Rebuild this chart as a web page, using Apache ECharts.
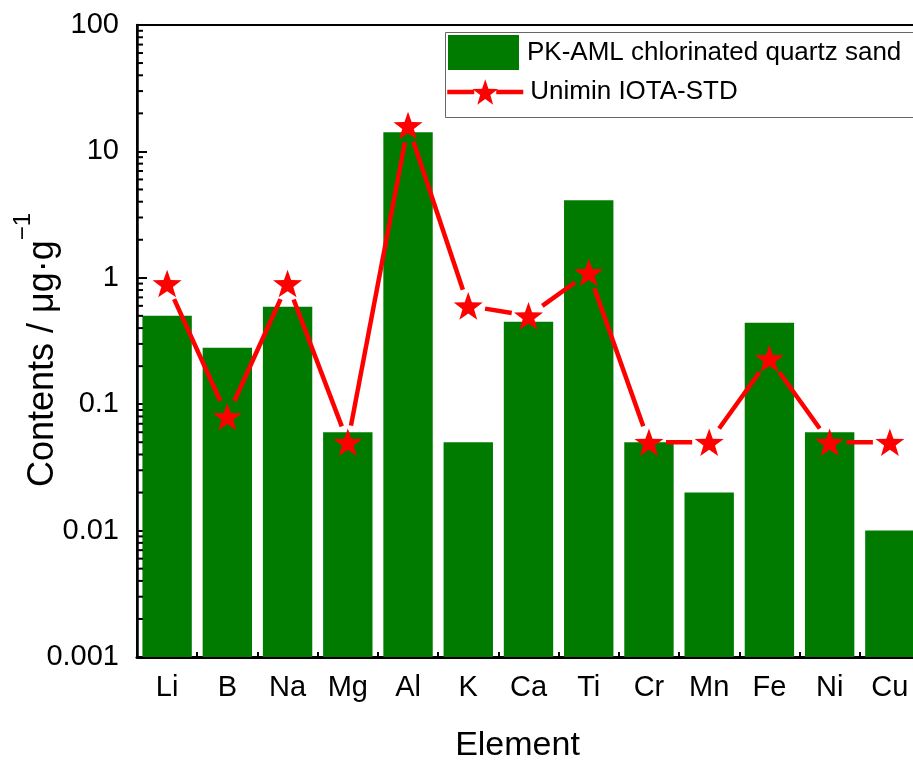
<!DOCTYPE html>
<html><head><meta charset="utf-8">
<script src="https://cdn.jsdelivr.net/npm/echarts@6/dist/echarts.min.js"></script>
<style>html,body{margin:0;padding:0;background:#fff}#c{width:913px;height:765px}</style>
</head><body><div id="c"></div>
<script>
const categories = ['Li','B','Na','Mg','Al','K','Ca','Ti','Cr','Mn','Fe','Ni','Cu'];
const pkAmlValues = [0.5,0.28,0.59,0.06,14.2,0.05,0.45,4.1,0.05,0.02,0.44,0.06,0.01];
const iotaStdValues = [0.9,0.08,0.9,0.05,16,0.6,0.5,1.1,0.05,0.05,0.23,0.05,0.05];
const yTickLabels = ['0.001','0.01','0.1','1','10','100'];
const yMinorTickValues = [
  0.002,0.003,0.004,0.005,0.006,0.007,0.008,0.009,
  0.02,0.03,0.04,0.05,0.06,0.07,0.08,0.09,
  0.2,0.3,0.4,0.5,0.6,0.7,0.8,0.9,
  2,3,4,5,6,7,8,9,
  20,30,40,50,60,70,80,90
];
const seriesNames = ['PK-AML chlorinated quartz sand','Unimin IOTA-STD'];

const FONT = "Arial, 'Liberation Sans', sans-serif";
const STAR = 'path://M50 0 L61.76 33.82 L97.55 34.55 L69.02 56.18 L79.39 90.45 L50 70 L20.61 90.45 L30.98 56.18 L2.45 34.55 L38.24 33.82 Z';
const RED = '#ff0000';
const GREEN = '#007b00';

const chart = echarts.init(document.getElementById('c'), null, {renderer:'canvas'});
chart.setOption({
  animation:false,
  backgroundColor:'#fff',
  textStyle:{fontFamily:FONT, color:'#000'},
  grid:{left:137, top:25, width:783, height:632, show:true, borderColor:'#000', borderWidth:2,
        backgroundColor:'transparent', outerBoundsMode:'none', containLabel:false},
  legend:[
    {data:[{name:seriesNames[0], icon:'rect'}], left:448, top:35, padding:0, itemWidth:71, itemHeight:35,
     selectedMode:false, textStyle:{fontSize:26, color:'#000', fontFamily:FONT, padding:[0,0,0,3]}},
    {data:[{name:seriesNames[1], lineStyle:{opacity:1, width:4.5, color:RED, type:[27,22]}}],
     left:445, top:79, padding:0, itemWidth:76, itemHeight:32,
     selectedMode:false, textStyle:{fontSize:26, color:'#000', fontFamily:FONT, padding:[0,0,0,2]}}
  ],
  graphic:[{type:'rect', left:443, top:30, shape:{width:480, height:85},
            style:{fill:'none', stroke:'#666', lineWidth:1}, z:-1, silent:true}],
  xAxis:[
    {type:'category', data:categories, position:'bottom',
     axisLine:{show:true, lineStyle:{color:'#000', width:3}},
     axisTick:{show:true, inside:true, alignWithLabel:true, length:10, lineStyle:{color:'#000', width:2}},
     axisLabel:{fontSize:29, margin:16, color:'#000', fontFamily:FONT, interval:0},
     name:'Element', nameLocation:'middle', nameGap:72, nameMoveOverlap:false,
     nameTextStyle:{fontSize:34, color:'#000', fontFamily:FONT, padding:[0,22,0,0]}},
    {type:'category', data:categories, position:'bottom',
     axisLine:{show:false},
     axisTick:{show:true, inside:true, length:5, lineStyle:{color:'#000', width:2}},
     axisLabel:{show:false}}
  ],
  yAxis:{
    type:'log', logBase:10, min:0.001, max:100, startValue:0.001,
    axisLine:{show:true, lineStyle:{color:'#000', width:2.5}},
    axisTick:{show:true, inside:true, length:10, lineStyle:{color:'#000', width:2}},
    splitLine:{show:false},
    axisLabel:{fontSize:29, margin:18, color:'#000', fontFamily:FONT,
      formatter:function(v){ return yTickLabels[Math.round(Math.log10(v))+3]; }},
    name:'{a|Contents / μg·g}{sup|−1}', nameLocation:'middle', nameGap:76, nameMoveOverlap:false,
    nameTextStyle:{color:'#000', fontFamily:FONT, padding:[0,18,0,0],
      rich:{a:{fontSize:36, fontFamily:FONT, color:'#000', lineHeight:50, verticalAlign:'bottom'},
            sup:{fontSize:24, fontFamily:FONT, color:'#000', lineHeight:50, verticalAlign:'top'}}}
  },
  series:[
    {name:seriesNames[0], type:'bar', data:pkAmlValues, barCategoryGap:'18%',
     itemStyle:{color:GREEN}, z:2},
    {name:'seg', type:'custom', silent:true, z:3, clip:false,
     data:iotaStdValues.slice(0,-1).map((v,i)=>[i,v]), encode:{x:0,y:1},
     renderItem:function(params, api){
       const i = params.dataIndex;
       const p0 = api.coord([i, iotaStdValues[i]]);
       const p1 = api.coord([i+1, iotaStdValues[i+1]]);
       const dx = p1[0]-p0[0], dy = p1[1]-p0[1];
       const L = Math.sqrt(dx*dx+dy*dy), g = 17;
       if (L <= 2*g) return null;
       const ux = dx/L, uy = dy/L;
       return {type:'line', shape:{x1:p0[0]+ux*g, y1:p0[1]+uy*g, x2:p1[0]-ux*g, y2:p1[1]-uy*g},
               style:{stroke:RED, lineWidth:4.5, lineCap:'butt'}};
     }},
    {name:seriesNames[1], type:'line', data:iotaStdValues, symbol:STAR, symbolSize:29,
     showAllSymbol:true, symbolKeepAspect:true,
     lineStyle:{opacity:0, width:4.5, color:RED}, itemStyle:{color:RED}, z:4},
    {name:'minorTicks', type:'custom', silent:true, z:5, clip:false,
     data:yMinorTickValues.map(v=>[0,v]), encode:{x:0,y:1},
     renderItem:function(params, api){
       const y = api.coord([0, api.value(1)])[1];
       const x = params.coordSys.x;
       return {type:'line', shape:{x1:x, y1:y, x2:x+6, y2:y}, style:{stroke:'#000', lineWidth:2}};
     }}
  ]
});
</script></body></html>
